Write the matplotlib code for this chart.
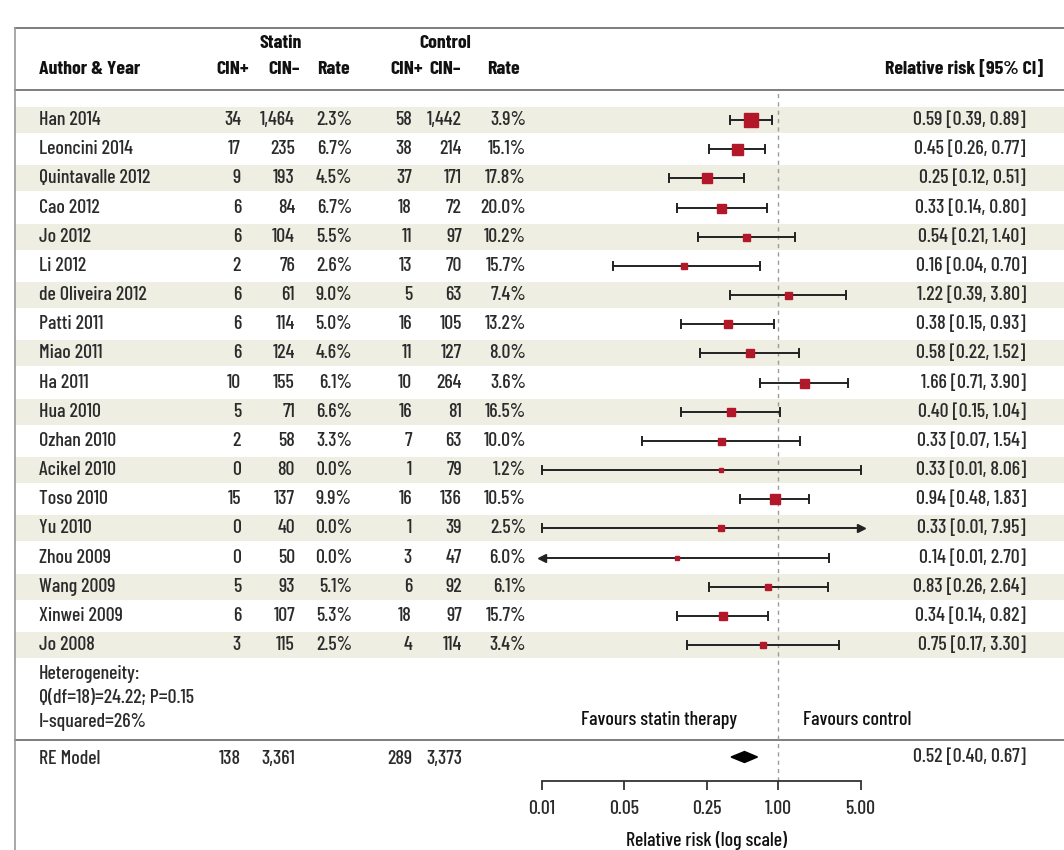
import matplotlib
matplotlib.use('Agg')
import matplotlib.pyplot as plt
from matplotlib import font_manager
from matplotlib.patches import Polygon, Rectangle
from matplotlib.ticker import NullLocator

W, H = 1064, 850

studies = ["Han 2014", "Leoncini 2014", "Quintavalle 2012", "Cao 2012", "Jo 2012",
           "Li 2012", "de Oliveira 2012", "Patti 2011", "Miao 2011", "Ha 2011",
           "Hua 2010", "Ozhan 2010", "Acikel 2010", "Toso 2010", "Yu 2010",
           "Zhou 2009", "Wang 2009", "Xinwei 2009", "Jo 2008"]
statin_pos = [34, 17, 9, 6, 6, 2, 6, 6, 6, 10, 5, 2, 0, 15, 0, 0, 5, 6, 3]
statin_neg = [1464, 235, 193, 84, 104, 76, 61, 114, 124, 155, 71, 58, 80, 137, 40, 50, 93, 107, 115]
statin_rate = [2.3, 6.7, 4.5, 6.7, 5.5, 2.6, 9.0, 5.0, 4.6, 6.1, 6.6, 3.3, 0.0, 9.9, 0.0, 0.0, 5.1, 5.3, 2.5]
control_pos = [58, 38, 37, 18, 11, 13, 5, 16, 11, 10, 16, 7, 1, 16, 1, 3, 6, 18, 4]
control_neg = [1442, 214, 171, 72, 97, 70, 63, 105, 127, 264, 81, 63, 79, 136, 39, 47, 92, 97, 114]
control_rate = [3.9, 15.1, 17.8, 20.0, 10.2, 15.7, 7.4, 13.2, 8.0, 3.6, 16.5, 10.0, 1.2, 10.5, 2.5, 6.0, 6.1, 15.7, 3.4]

rr = [0.59, 0.45, 0.25, 0.33, 0.54, 0.16, 1.22, 0.38, 0.58, 1.66, 0.40, 0.33, 0.33, 0.94, 0.33, 0.14, 0.83, 0.34, 0.75]
rr_lo = [0.39, 0.26, 0.12, 0.14, 0.21, 0.04, 0.39, 0.15, 0.22, 0.71, 0.15, 0.07, 0.01, 0.48, 0.01, 0.01, 0.26, 0.14, 0.17]
rr_hi = [0.89, 0.77, 0.51, 0.80, 1.40, 0.70, 3.80, 0.93, 1.52, 3.90, 1.04, 1.54, 8.06, 1.83, 7.95, 2.70, 2.64, 0.82, 3.30]
# relative study weight -> box size
weights = [13.6, 11, 10, 9, 7, 6, 7, 8, 8, 9, 8, 7, 5, 10, 6, 5, 6.5, 8, 6]
# CIs running off the axis get an arrow head on that side
arrow_side = {"Yu 2010": "right", "Zhou 2009": "left"}

pooled = 0.52
pooled_lo = 0.40
pooled_hi = 0.67
heterogeneity = ["Heterogeneity:", "Q(df=18)=24.22; P=0.15", "I-squared=26%"]

axis_ticks = [0.01, 0.05, 0.25, 1.0, 5.0]
axis_labels = ["0.01", "0.05", "0.25", "1.00", "5.00"]
AX_MIN, AX_MAX = 0.01, 5.0

# narrow grotesque if available
installed = {f.name for f in font_manager.fontManager.ttflist}
FONT = 'DejaVu Sans'
for fam in ('Barlow Condensed', 'Roboto Condensed', 'Fira Sans Condensed', 'PT Sans Narrow',
            'Liberation Sans Narrow'):
    if fam in installed:
        FONT = fam
        break
plt.rcParams['font.family'] = [FONT, 'DejaVu Sans']

TXT = '#2b2b2b'
HEAD = '#111111'
BAND = '#efeee3'
RED = '#b3182a'
LINE = '#7d7d7d'
FS = 14.3
BODY = 'medium'

ROW0 = 120
ROW_H = 29.17


def row_y(i):
    return ROW0 + i * ROW_H


def cell(x, y, s, ha='right', **kw):
    bg.text(x, y, s, ha=ha, va='center', fontsize=FS, color=TXT, weight=BODY, **kw)


fig = plt.figure(figsize=(W / 100, H / 100), dpi=100)
bg = fig.add_axes([0, 0, 1, 1])
bg.set_xlim(0, W)
bg.set_ylim(H, 0)
bg.axis('off')

# striped rows
for i in range(0, len(studies), 2):
    bg.add_patch(Rectangle((15, row_y(i) - 13), W - 15, 26, color=BAND, lw=0, zorder=0))

# frame lines
for y in (28, 90, 740):
    bg.plot([15, W], [y, y], color=LINE, lw=1.4, zorder=1)
bg.plot([15, 15], [28, H], color='#9a9a9a', lw=1.2, zorder=1)

# header
bg.text(281, 43, "Statin", ha='center', va='center', fontsize=FS, weight='bold', color=HEAD)
bg.text(445, 43, "Control", ha='center', va='center', fontsize=FS, weight='bold', color=HEAD)
head_y = 69
bg.text(39, head_y, "Author & Year", ha='left', va='center', fontsize=FS, weight='bold', color=HEAD)
for x, s in [(249, "CIN+"), (300, "CIN\u2013"), (423, "CIN+"), (461, "CIN\u2013")]:
    bg.text(x, head_y, s, ha='right', va='center', fontsize=FS, weight='bold', color=HEAD)
for x in (317, 487):
    bg.text(x, head_y, "Rate", ha='left', va='center', fontsize=FS, weight='bold', color=HEAD)
bg.text(1043, head_y, "Relative risk [95% CI]", ha='right', va='center', fontsize=FS,
        weight='bold', color=HEAD)

COL_SP, COL_SN, COL_SR = 241, 295, 352
COL_CP, COL_CN, COL_CR = 412, 462, 526
COL_CI = 1026

for i, name in enumerate(studies):
    y = row_y(i)
    cell(39, y, name, ha='left')
    cell(COL_SP, y, f"{statin_pos[i]:,}")
    cell(COL_SN, y, f"{statin_neg[i]:,}")
    cell(COL_SR, y, f"{statin_rate[i]:.1f}%")
    cell(COL_CP, y, f"{control_pos[i]:,}")
    cell(COL_CN, y, f"{control_neg[i]:,}")
    cell(COL_CR, y, f"{control_rate[i]:.1f}%")
    cell(COL_CI, y, f"{rr[i]:.2f} [{rr_lo[i]:.2f}, {rr_hi[i]:.2f}]")

for k, line in enumerate(heterogeneity):
    cell(39, 674 + k * 24, line, ha='left')

re_y = 759
cell(39, re_y, "RE Model", ha='left')
cell(COL_SP, re_y, f"{sum(statin_pos):,}")
cell(COL_SN, re_y, f"{sum(statin_neg):,}")
cell(COL_CP, re_y, f"{sum(control_pos):,}")
cell(COL_CN, re_y, f"{sum(control_neg):,}")
cell(COL_CI, 757, f"{pooled:.2f} [{pooled_lo:.2f}, {pooled_hi:.2f}]")

bg.text(659, 720, "Favours statin therapy", ha='center', va='center', fontsize=FS,
        color=HEAD, weight=BODY)
bg.text(857, 720, "Favours control", ha='center', va='center', fontsize=FS,
        color=HEAD, weight=BODY)
bg.text(707, 840, "Relative risk (log scale)", ha='center', va='center', fontsize=FS,
        color=HEAD, weight=BODY)

# forest panel: log axis, y in the same pixel rows as the table
x_left, x_right = 542, 860.5
y_top, y_bot = 90, 781
fx = fig.add_axes([x_left / W, (H - y_bot) / H, (x_right - x_left) / W, (y_bot - y_top) / H])
fx.set_facecolor('none')
fx.set_xscale('log')
fx.set_xlim(AX_MIN, AX_MAX)
fx.set_ylim(y_bot, y_top)
for s in ('left', 'right', 'top'):
    fx.spines[s].set_visible(False)
fx.spines['bottom'].set_color('#333333')
fx.spines['bottom'].set_linewidth(1.3)
fx.set_yticks([])
fx.set_xticks(axis_ticks)
fx.set_xticklabels(axis_labels, fontweight=BODY)
fx.xaxis.set_minor_locator(NullLocator())
fx.tick_params(axis='x', direction='out', length=6.5, width=1.3, color='#333333',
               labelsize=FS, labelcolor=TXT, pad=7)

fx.axvline(1.0, color='#9c9c9c', lw=1.0, ls=(0, (3, 3)), zorder=1)

CAP = 4
for i, name in enumerate(studies):
    y = row_y(i)
    lo = max(rr_lo[i], AX_MIN)
    hi = min(rr_hi[i], AX_MAX)
    side = arrow_side.get(name)
    fx.plot([lo, hi], [y, y], color='#222222', lw=1.4, zorder=2, clip_on=False)
    if side != 'left':
        fx.plot([lo, lo], [y - CAP, y + CAP], color='#222222', lw=1.4, zorder=2, clip_on=False)
    else:
        fx.plot([lo], [y], marker='<', ms=6, color='#222222', zorder=2, clip_on=False)
    if side != 'right':
        fx.plot([hi, hi], [y - CAP, y + CAP], color='#222222', lw=1.4, zorder=2, clip_on=False)
    else:
        fx.plot([hi], [y], marker='>', ms=6, color='#222222', zorder=2, clip_on=False)
    fx.plot([rr[i]], [y], marker='s', ms=weights[i] * 0.72, color=RED, mec=RED,
            zorder=3, clip_on=False)

# pooled estimate
dy = 5.5
fx.add_patch(Polygon([(pooled_lo, 757), (pooled, 757 - dy), (pooled_hi, 757), (pooled, 757 + dy)],
                     closed=True, color='black', zorder=3, clip_on=False))

fig.savefig('out.png', dpi=100)
